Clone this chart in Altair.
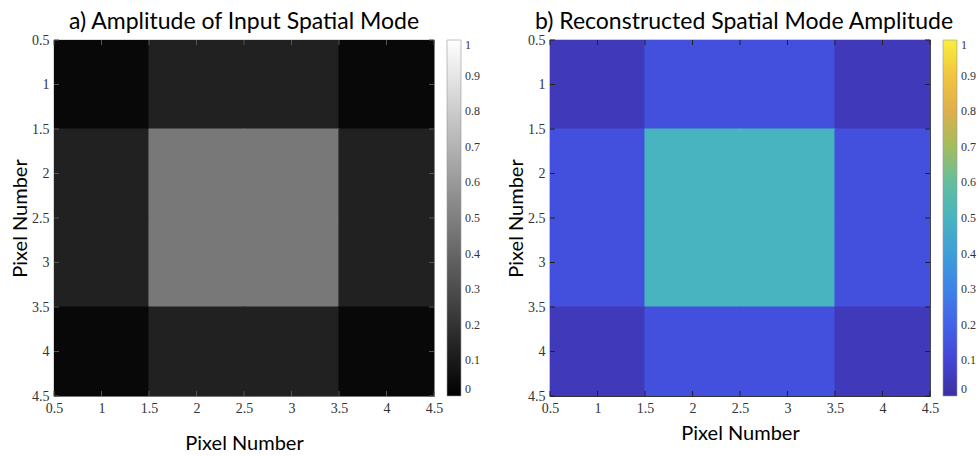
import altair as alt
import pandas as pd

# ---- data ----
pixels = [1, 2, 3, 4]
input_amplitude = [
    [0.03, 0.13, 0.13, 0.03],
    [0.13, 0.47, 0.47, 0.13],
    [0.13, 0.47, 0.47, 0.13],
    [0.03, 0.13, 0.13, 0.03],
]
reconstructed_amplitude = [
    [0.05, 0.14, 0.14, 0.05],
    [0.14, 0.50, 0.50, 0.14],
    [0.14, 0.50, 0.50, 0.14],
    [0.05, 0.14, 0.14, 0.05],
]
axis_ticks = [0.5, 1, 1.5, 2, 2.5, 3, 3.5, 4, 4.5]
colorbar_ticks = [0, 0.1, 0.2, 0.3, 0.4, 0.5, 0.6, 0.7, 0.8, 0.9, 1]
titles = ["a) Amplitude of Input Spatial Mode", "b) Reconstructed Spatial Mode Amplitude"]
axis_title = "Pixel Number"

GRAY = ["#000000", "#ffffff"]
PARULA = ["#3c2f9f", "#4444d4", "#4262ea", "#3d82e8", "#3e9ed9", "#48b4c0",
          "#64be9e", "#a2bd5e", "#ddaf4c", "#f2c43e", "#f7ef3c"]

W, H = 380, 356
TICK_FONT = "Liberation Serif"
TEXT_FONT = "Lato"
SEAM = 0.006  # tiny overlap between neighbouring cells to hide anti-alias seams


def cells(matrix):
    rows = []
    for r, row_pix in enumerate(pixels):
        for c, col_pix in enumerate(pixels):
            rows.append({"row": row_pix, "col": col_pix, "v": matrix[r][c]})
    return pd.DataFrame(rows)


ticks_df = pd.DataFrame({"t": axis_ticks})


def xaxis(title_y):
    return alt.Axis(values=axis_ticks, format="~g", title=axis_title, ticks=False,
                    domain=False, grid=False, labelFlush=False, labelOverlap=False,
                    labelFont=TICK_FONT, labelFontSize=14, labelColor="#333",
                    labelPadding=5, titleFont=TEXT_FONT, titleFontSize=20,
                    titleFontWeight="normal", titleColor="#000",
                    titleBaseline="alphabetic", titleY=title_y)


def yaxis():
    return alt.Axis(values=axis_ticks, format="~g", title=axis_title, ticks=False,
                    domain=False, grid=False, labelFlush=False, labelOverlap=False,
                    labelFont=TICK_FONT, labelFontSize=14, labelColor="#333",
                    labelPadding=5, titleFont=TEXT_FONT, titleFontSize=20,
                    titleFontWeight="normal", titleColor="#000",
                    titleBaseline="alphabetic", titleX=-28)


xscale = alt.Scale(domain=[0.5, 4.5], nice=False, zero=False)
yscale = alt.Scale(domain=[0.5, 4.5], nice=False, zero=False, reverse=True)


def panel(matrix, color_range, title, tick_color, frame_color, title_y, title_dx):
    cscale = alt.Scale(domain=[0, 1], range=color_range, interpolate="rgb")
    base = alt.Chart(cells(matrix)).transform_calculate(
        x0=f"datum.col - 0.5 - {SEAM}", x1=f"datum.col + 0.5 + {SEAM}",
        y0=f"datum.row - 0.5 - {SEAM}", y1=f"datum.row + 0.5 + {SEAM}",
    )
    rect = base.mark_rect(clip=True).encode(
        x=alt.X("x0:Q", scale=xscale, axis=xaxis(title_y)),
        x2="x1:Q",
        y=alt.Y("y0:Q", scale=yscale, axis=yaxis()),
        y2="y1:Q",
        color=alt.Color(
            "v:Q",
            title=None,
            scale=cscale,
            legend=alt.Legend(
                orient="none", legendX=W + 13, legendY=0, direction="vertical",
                gradientLength=H, gradientThickness=14,
                gradientStrokeColor="#999", gradientStrokeWidth=0.6,
                values=colorbar_ticks, format="~g", labelOverlap=False,
                labelFont=TICK_FONT, labelFontSize=12, labelColor="#333",
                labelOffset=4,
            ),
        ),
    )
    tx = alt.X("t:Q", scale=xscale, axis=xaxis(title_y))
    ty = alt.Y("t:Q", scale=yscale, axis=yaxis())
    tk = alt.Chart(ticks_df)
    bottom = tk.mark_rule(color=tick_color).encode(x=tx, y=alt.value(H), y2=alt.value(H - 5))
    top = tk.mark_rule(color=tick_color).encode(x=tx, y=alt.value(0), y2=alt.value(5))
    left = tk.mark_rule(color=tick_color).encode(y=ty, x=alt.value(0), x2=alt.value(5))
    right = tk.mark_rule(color=tick_color).encode(y=ty, x=alt.value(W), x2=alt.value(W - 5))
    return alt.layer(rect, bottom, top, left, right).properties(
        width=W, height=H,
        view=alt.ViewBackground(stroke=frame_color, strokeWidth=1.2),
        title=alt.TitleParams(title, font=TEXT_FONT, fontSize=23, fontWeight="normal",
                              color="#000", anchor="middle", baseline="alphabetic",
                              frame="group", offset=-19, dx=title_dx),
    )


left = panel(input_amplitude, GRAY, titles[0], "#555", "#777", 53, 0)
right = panel(reconstructed_amplitude, PARULA, titles[1], "#222", "#333", 43, 4)

chart = alt.hconcat(left, right, spacing=24).resolve_scale(
    color="independent"
).resolve_legend(color="independent").properties(
    padding={"left": 9, "top": 10, "right": 2, "bottom": 0},
    background="white",
)

chart.save("out.html", embed_options={"renderer": "svg", "actions": False})
